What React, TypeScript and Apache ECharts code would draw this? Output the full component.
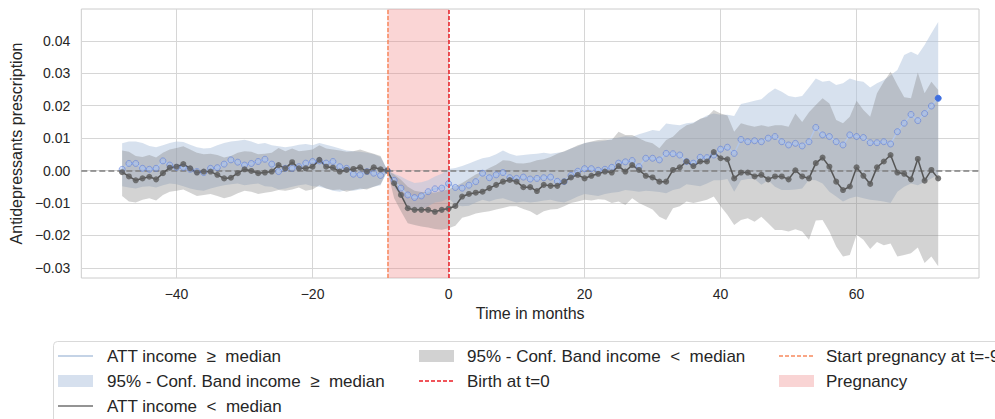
import React, { useEffect, useRef } from "react";
import * as echarts from "echarts";

const months = [
  -48, -47, -46, -45, -44, -43, -42, -41, -40, -39, -38, -37,
  -36, -35, -34, -33, -32, -31, -30, -29, -28, -27, -26, -25,
  -24, -23, -22, -21, -20, -19, -18, -17, -16, -15, -14, -13,
  -12, -11, -10, -9, -8, -7, -6, -5, -4, -3, -2, -1,
  0, 1, 2, 3, 4, 5, 6, 7, 8, 9, 10, 11,
  12, 13, 14, 15, 16, 17, 18, 19, 20, 21, 22, 23,
  24, 25, 26, 27, 28, 29, 30, 31, 32, 33, 34, 35,
  36, 37, 38, 39, 40, 41, 42, 43, 44, 45, 46, 47,
  48, 49, 50, 51, 52, 53, 54, 55, 56, 57, 58, 59,
  60, 61, 62, 63, 64, 65, 66, 67, 68, 69, 70, 71,
  72,
];

// ATT income >= median
const attHigh = [
  0.0004, 0.0022, 0.0022, 0.0007, 0.0004, 0.0007, 0.003, 0.0017, 0.001, 0.001, 0.0004, -0.0003,
  -0.0006, 0.0007, 0.0009, 0.002, 0.0033, 0.0026, 0.0017, 0.0022, 0.0028, 0.0035, 0.002, -0.0003,
  0.0007, 0.0007, 0.0012, 0.0023, 0.0028, 0.003, 0.0023, 0.0028, 0.0012, 0.0007, -0.0011, -0.0013,
  -0.0003, -0.0008, -0.0015, 0, -0.003, -0.0054, -0.0075, -0.0083, -0.0078, -0.0065, -0.0056, -0.0054,
  -0.004, -0.0052, -0.0054, -0.0045, -0.0034, -0.0008, -0.0022, -0.0013, -0.0006, -0.0022, -0.0024, -0.002,
  -0.0026, -0.0024, -0.0022, -0.002, -0.0033, -0.0034, -0.0015, -0.0002, 0.0006, 0.0006, 0.0001, 0.0004,
  0.001, 0.0023, 0.0027, 0.0031, 0.0012, 0.0038, 0.0038, 0.0033, 0.0053, 0.0052, 0.0048, 0.0028,
  0.0023, 0.0041, 0.004, 0.0048, 0.0066, 0.0072, 0.0053, 0.0096, 0.0089, 0.0092, 0.0089, 0.01,
  0.0105, 0.0089, 0.0079, 0.0084, 0.0076, 0.0089, 0.0133, 0.011, 0.0105, 0.0089, 0.0079, 0.011,
  0.0105, 0.0102, 0.0086, 0.0086, 0.0089, 0.0082, 0.012, 0.0146, 0.0173, 0.0154, 0.0176, 0.0199,
  0.0223,
];
const highUpper = [
  0.0084, 0.009, 0.009, 0.0085, 0.0076, 0.0072, 0.0078, 0.0085, 0.009, 0.0088, 0.008, 0.0072,
  0.0068, 0.007, 0.0078, 0.0085, 0.009, 0.0092, 0.0095, 0.009, 0.0082, 0.0085, 0.0078, 0.0075,
  0.0072, 0.0075, 0.008, 0.0082, 0.0078, 0.0085, 0.008, 0.0074, 0.0068, 0.0062, 0.006, 0.0058,
  0.0055, 0.005, 0.0042, 0.0001, -0.001, -0.0018, -0.003, -0.0038, -0.0036, -0.003, -0.0018, -0.001,
  0.0005, 0.0008, 0.0014, 0.0022, 0.003, 0.0038, 0.0042, 0.005, 0.0062, 0.0052, 0.0046, 0.0048,
  0.005, 0.0052, 0.0055, 0.0052, 0.0055, 0.0058, 0.0068, 0.0075, 0.0085, 0.0088, 0.009, 0.0092,
  0.0098, 0.0102, 0.0106, 0.0104, 0.0112, 0.0118, 0.0125, 0.0122, 0.0145, 0.0142, 0.014, 0.0146,
  0.0148, 0.0158, 0.017, 0.0176, 0.0172, 0.0172, 0.0168, 0.0205, 0.021, 0.0215, 0.022, 0.0238,
  0.0253, 0.0243, 0.023, 0.0226, 0.023, 0.0256, 0.0284, 0.0274, 0.0277, 0.0264, 0.0269, 0.0284,
  0.0277, 0.0274, 0.0256, 0.0269, 0.0279, 0.0294, 0.031, 0.0356, 0.0366, 0.0356, 0.0387, 0.0423,
  0.0458,
];
const highLower = [
  -0.0048, -0.0052, -0.0055, -0.005, -0.0048, -0.0052, -0.0045, -0.004, -0.0042, -0.0048, -0.0055, -0.006,
  -0.0062, -0.0055, -0.005, -0.0045, -0.0042, -0.004, -0.0045, -0.0042, -0.004, -0.0048, -0.005, -0.0058,
  -0.0055, -0.005, -0.0045, -0.0042, -0.0048, -0.005, -0.0055, -0.0062, -0.0065, -0.006, -0.0062, -0.0058,
  -0.0055, -0.005, -0.0045, -0.0001, -0.0052, -0.008, -0.011, -0.0125, -0.012, -0.011, -0.0098, -0.0095,
  -0.0085, -0.0105, -0.011, -0.0108, -0.0098, -0.009, -0.0095, -0.0088, -0.0085, -0.0092, -0.0098, -0.0095,
  -0.0098, -0.0096, -0.0092, -0.009, -0.0095, -0.0098, -0.009, -0.008, -0.0072, -0.0075, -0.0078, -0.0072,
  -0.0068, -0.0066, -0.006, -0.0062, -0.0065, -0.0062, -0.0064, -0.0066, -0.007, -0.006, -0.0055, -0.0042,
  -0.0045, -0.0048, -0.004, -0.003, -0.003, -0.0026, -0.0065, -0.003, -0.0026, -0.0026, -0.0044, -0.003,
  -0.005, -0.006, -0.006, -0.0058, -0.0055, -0.0028, -0.003, -0.004, -0.0065, -0.008, -0.0095, -0.0085,
  -0.008, -0.0085, -0.009, -0.0092, -0.0095, -0.01, -0.0065, -0.005, -0.004, -0.0045, -0.0035, -0.0024,
  -0.0013,
];

// ATT income < median
const attLow = [
  -0.0005, -0.0018, -0.003, -0.0024, -0.0019, -0.0027, -0.0008, 0.0009, 0.0012, 0.002, 0.0007, -0.0006,
  -0.0003, -0.0003, -0.0013, -0.0024, -0.0022, -0.0008, 0.0004, -0.0001, -0.0008, -0.0006, -0.0003, 0.0017,
  0.0007, 0.0026, 0.0007, 0.0007, 0.0012, 0.0033, 0.0012, 0.0009, -0.0003, 0.0002, 0.0005, 0.001,
  -0.0003, 0.001, 0.0004, 0, -0.0039, -0.0075, -0.0116, -0.0121, -0.0121, -0.0121, -0.0127, -0.0121,
  -0.0117, -0.0109, -0.008, -0.0072, -0.0068, -0.0065, -0.0054, -0.0044, -0.0034, -0.0029, -0.0034, -0.0051,
  -0.0051, -0.0063, -0.0044, -0.0047, -0.0047, -0.0034, -0.0021, -0.0013, -0.0024, -0.0016, -0.001, -0.0003,
  -0.0006, 0.0014, -0.0003, 0.0017, 0.0002, -0.0016, -0.0021, -0.0034, -0.0034, 0.0002, 0.001, 0.0028,
  0.0014, 0.0028, 0.0028, 0.0057, 0.0038, 0.0035, -0.0024, -0.0006, -0.0006, -0.0018, -0.0013, -0.0027,
  -0.0018, -0.0018, -0.0027, 0.0001, -0.0018, -0.0024, 0.0023, 0.004, 0.0012, -0.0034, -0.006, -0.0049,
  0.001, -0.0016, -0.0041, 0.001, 0.0028, 0.0048, -0.0006, -0.001, -0.0027, 0.0036, -0.0031, 0.0002,
  -0.0024,
];
const lowUpper = [
  0.0062, 0.0058, 0.0045, 0.0042, 0.0048, 0.004, 0.0055, 0.0065, 0.007, 0.0075, 0.0065, 0.0055,
  0.005, 0.0052, 0.0048, 0.004, 0.0045, 0.0055, 0.006, 0.0058, 0.005, 0.0052, 0.0055, 0.007,
  0.006, 0.0068, 0.006, 0.0062, 0.0065, 0.0078, 0.0068, 0.0065, 0.0062, 0.0058, 0.006, 0.0065,
  0.0058, 0.0052, 0.0045, 0.0001, -0.0012, -0.0028, -0.005, -0.0062, -0.0066, -0.0066, -0.0068, -0.0062,
  -0.0058, -0.0048, -0.0038, -0.0025, -0.0012, -0.0003, 0.0008, 0.0018, 0.0032, 0.003, 0.0023, 0.0022,
  0.0025, 0.0032, 0.0035, 0.0042, 0.0052, 0.006, 0.0068, 0.0078, 0.0084, 0.009, 0.0094, 0.0096,
  0.0094, 0.012, 0.011, 0.011, 0.01, 0.009, 0.0084, 0.0069, 0.0094, 0.0104, 0.0125, 0.014,
  0.0146, 0.016, 0.0165, 0.0187, 0.0176, 0.017, 0.012, 0.0146, 0.014, 0.0135, 0.014, 0.0135,
  0.014, 0.014, 0.0135, 0.0176, 0.015, 0.018, 0.0202, 0.0223, 0.0207, 0.0156, 0.0146, 0.0166,
  0.0215, 0.0187, 0.0166, 0.0238, 0.0274, 0.0305, 0.0264, 0.0226, 0.0223, 0.0302, 0.0238, 0.0274,
  0.0248,
];
const lowLower = [
  -0.0078, -0.0095, -0.0098, -0.009, -0.0085, -0.0092, -0.0075, -0.0065, -0.0062, -0.0058, -0.0068, -0.0078,
  -0.0075, -0.0072, -0.0078, -0.0085, -0.008, -0.007, -0.0062, -0.0065, -0.0072, -0.0068, -0.0065, -0.006,
  -0.0062, -0.0058, -0.0052, -0.0062, -0.0058, -0.0045, -0.0055, -0.006, -0.0058, -0.0065, -0.006, -0.0055,
  -0.0058, -0.005, -0.0042, -0.0001, -0.0085, -0.0125, -0.0162, -0.0168, -0.0172, -0.0175, -0.018, -0.0182,
  -0.0178, -0.017, -0.0145, -0.014, -0.0132, -0.0128, -0.0125, -0.012, -0.0115, -0.011, -0.011, -0.0118,
  -0.0125, -0.0138, -0.0125, -0.012, -0.0118, -0.011, -0.01, -0.0095, -0.009, -0.0092, -0.0088, -0.009,
  -0.01, -0.0095, -0.0106, -0.0085, -0.01, -0.011, -0.012, -0.0142, -0.0152, -0.0116, -0.011, -0.0095,
  -0.01, -0.0095, -0.009, -0.008, -0.011, -0.0136, -0.0168, -0.0152, -0.0147, -0.0158, -0.0142, -0.0162,
  -0.0183, -0.0183, -0.0188, -0.0181, -0.0188, -0.0213, -0.0154, -0.0152, -0.0188, -0.0234, -0.0265, -0.026,
  -0.0198, -0.0213, -0.0242, -0.022, -0.023, -0.0225, -0.0265, -0.026, -0.0255, -0.0237, -0.0285, -0.0265,
  -0.0295,
];

const xTicks = [-40, -20, 0, 20, 40, 60];
const yTicks = [-0.03, -0.02, -0.01, 0, 0.01, 0.02, 0.03, 0.04];
const pregnancyStart = -9;
const birthMonth = 0;

const labelHighLine = "ATT income \u00a0≥\u00a0 median";
const labelHighBand = "95% - Conf. Band income \u00a0≥\u00a0 median";
const labelLowLine = "ATT income \u00a0<\u00a0 median";
const labelLowBand = "95% - Conf. Band income \u00a0<\u00a0 median";
const labelBirth = "Birth at t=0";
const labelStart = "Start pregnancy at t=-9";
const labelPregnancy = "Pregnancy";

const FONT = '"Liberation Sans", Arial, Helvetica, sans-serif';
const TEXT = "#262626";
const BLUE_BAND = "rgba(176,196,222,0.5)";
const GRAY_BAND = "rgba(128,128,128,0.35)";
const PINK = "rgba(240,128,128,0.33)";
const ORANGE = "#f7895e";
const RED = "#ec1c24";
const minus = (s: string) => s.replace("-", "\u2212");

function band(upper: number[], lower: number[], fill: string, z: number) {
  return {
    type: "custom",
    coordinateSystem: "cartesian2d",
    z,
    silent: true,
    data: [[months[0], upper[0]]],
    renderItem: (_p: any, api: any) => {
      const top = months.map((m, i) => api.coord([m, upper[i]]));
      const bottom = months.map((m, i) => api.coord([m, lower[i]])).reverse();
      return {
        type: "polygon",
        shape: { points: top.concat(bottom) },
        style: { fill, stroke: null },
      };
    },
  };
}

function legendGraphics() {
  const rows = [356, 381, 406];
  const cols = [
    { ix: 58, tx: 107 },
    { ix: 419, tx: 467 },
    { ix: 779, tx: 826 },
  ];
  const w = 35;
  const els: any[] = [
    {
      type: "rect",
      shape: { x: 53.5, y: 341.5, width: 980, height: 110, r: 4 },
      style: { fill: "#ffffff", stroke: "#d9d9d9", lineWidth: 1 },
      silent: true,
    },
  ];
  const txt = (c: number, r: number, t: string) => ({
    type: "text",
    x: cols[c].tx,
    y: rows[r],
    silent: true,
    style: { text: t, fill: TEXT, fontSize: 17, fontFamily: FONT, align: "left", verticalAlign: "middle" },
  });
  const line = (c: number, r: number, stroke: string, dash?: number[]) => ({
    type: "line",
    silent: true,
    shape: { x1: cols[c].ix, y1: rows[r], x2: cols[c].ix + w, y2: rows[r] },
    style: { stroke, lineWidth: 1.5, lineDash: dash },
  });
  const patch = (c: number, r: number, fill: string) => ({
    type: "rect",
    silent: true,
    shape: { x: cols[c].ix, y: rows[r] - 6, width: w, height: 12 },
    style: { fill },
  });
  els.push(line(0, 0, "#b0c4de"), txt(0, 0, labelHighLine));
  els.push(patch(0, 1, "#d6e0ee"), txt(0, 1, labelHighBand));
  els.push(line(0, 2, "#707070"), txt(0, 2, labelLowLine));
  els.push(patch(1, 0, "#d2d2d2"), txt(1, 0, labelLowBand));
  els.push(line(1, 1, RED, [4, 2]), txt(1, 1, labelBirth));
  els.push(line(2, 0, ORANGE, [4, 2]), txt(2, 0, labelStart));
  els.push(patch(2, 1, "#f9d4d4"), txt(2, 1, labelPregnancy));
  return els;
}

export default function App() {
  const ref = useRef<HTMLDivElement>(null);
  useEffect(() => {
    document.body.style.margin = "0";
    if (!ref.current) return;
    const chart = echarts.init(ref.current, null, { renderer: "svg" });
    const highData: any[] = months.map((m, i) => [m, attHigh[i]]);
    const last = highData.length - 1;
    highData[last] = { value: highData[last], itemStyle: { color: "#3f6fe0", borderColor: "#3f6fe0" } };
    const option: any = {
      animation: false,
      backgroundColor: "#ffffff",
      textStyle: { fontFamily: FONT },
      grid: {
        left: 78,
        right: 16,
        top: 9,
        bottom: 141,
        show: true,
        borderColor: "#cccccc",
        borderWidth: 1,
        backgroundColor: "transparent",
      },
      xAxis: {
        type: "value",
        min: -54,
        max: 78,
        name: "Time in months",
        nameLocation: "middle",
        nameGap: 27,
        nameTextStyle: { fontSize: 16, color: TEXT, fontFamily: FONT },
        axisLine: { show: false },
        axisTick: { show: false, customValues: xTicks },
        splitLine: { show: false },
        axisLabel: {
          customValues: xTicks,
          margin: 9,
          fontSize: 14,
          color: TEXT,
          fontFamily: FONT,
          formatter: (v: number) => minus(String(v)),
        },
      },
      yAxis: {
        type: "value",
        min: -0.0331,
        max: 0.0498,
        name: "Antidepressants prescription",
        nameLocation: "middle",
        nameGap: 53,
        nameTextStyle: { fontSize: 16, color: TEXT, fontFamily: FONT },
        axisLine: { show: false },
        axisTick: { show: false, customValues: yTicks },
        splitLine: { show: false },
        axisLabel: {
          customValues: yTicks,
          margin: 11,
          fontSize: 14,
          color: TEXT,
          fontFamily: FONT,
          formatter: (v: number) => minus(v.toFixed(2)),
        },
      },
      graphic: legendGraphics(),
      series: [
        {
          type: "line",
          data: [[months[0], attLow[0]]],
          symbol: "none",
          lineStyle: { opacity: 0 },
          silent: true,
          z: 0,
          markLine: {
            z: 0,
            silent: true,
            symbol: ["none", "none"],
            label: { show: false },
            lineStyle: { color: "#d6d6d6", width: 1, type: "solid" },
            data: [
              ...xTicks.map((v) => ({ xAxis: v })),
              ...yTicks.map((v) => ({ yAxis: v })),
            ],
          },
          markArea: {
            z: 1,
            silent: true,
            itemStyle: { color: PINK },
            data: [[{ xAxis: pregnancyStart }, { xAxis: birthMonth }]],
          },
        },
        band(highUpper, highLower, BLUE_BAND, 2),
        band(lowUpper, lowLower, GRAY_BAND, 2),
        {
          type: "line",
          data: [[months[0], attLow[0]]],
          symbol: "none",
          lineStyle: { opacity: 0 },
          silent: true,
          z: 3,
          markLine: {
            z: 3,
            silent: true,
            symbol: ["none", "none"],
            label: { show: false },
            lineStyle: { color: "#7f7f7f", width: 1.5, type: [6, 3] },
            data: [{ yAxis: 0 }],
          },
        },
        {
          type: "line",
          name: labelHighLine,
          data: highData,
          z: 4,
          symbol: "circle",
          symbolSize: 6,
          lineStyle: { color: "#b3c6e6", width: 1.5 },
          itemStyle: { color: "rgba(165,188,238,0.45)", borderColor: "rgba(80,115,220,0.5)", borderWidth: 1 },
        },
        {
          type: "line",
          name: labelLowLine,
          data: months.map((m, i) => [m, attLow[i]]),
          z: 4,
          symbol: "circle",
          symbolSize: 6,
          lineStyle: { color: "#555555", width: 1.5 },
          itemStyle: { color: "rgba(95,95,95,0.85)" },
        },
        {
          type: "line",
          data: [[months[0], attLow[0]]],
          symbol: "none",
          lineStyle: { opacity: 0 },
          silent: true,
          z: 6,
          markLine: {
            z: 6,
            silent: true,
            symbol: ["none", "none"],
            label: { show: false },
            data: [
              { xAxis: pregnancyStart, lineStyle: { color: ORANGE, width: 1.5, type: [4, 2] } },
              { xAxis: birthMonth, lineStyle: { color: RED, width: 1.5, type: [4, 2] } },
            ],
          },
        },
      ],
    };
    chart.setOption(option);
    return () => chart.dispose();
  }, []);
  return <div ref={ref} style={{ width: 995, height: 419 }} />;
}
